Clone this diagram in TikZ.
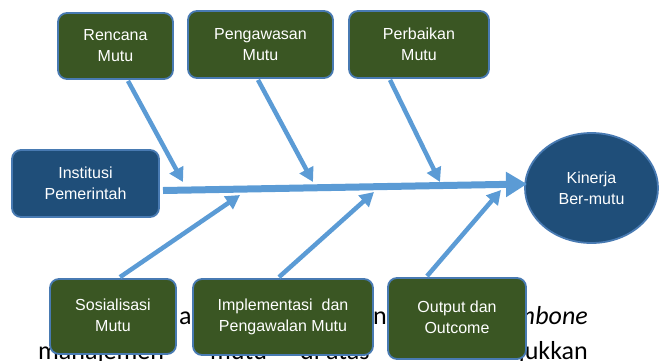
\documentclass[tikz,border=0pt]{standalone}
\usepackage{fontspec}
\setmainfont{Liberation Sans}
\newfontfamily\bodyfont{Carlito}
\usetikzlibrary{arrows.meta,shapes.geometric,calc}
\definecolor{gfill}{RGB}{58,86,35}
\definecolor{bfill}{RGB}{31,78,121}
\definecolor{bord}{RGB}{72,122,178}
\definecolor{arrc}{RGB}{91,155,213}
\begin{document}
\begin{tikzpicture}[x=1pt,y=-1pt,
  box/.style={draw=bord, line width=1.8pt, rounded corners=9pt, text=white, align=center,
    font=\fontsize{16}{21}\selectfont, inner sep=0pt},
  gbox/.style={box, fill=gfill},
  bbox/.style={box, fill=bfill},
  rib/.style={draw=arrc, line width=4.5pt, -{Triangle[length=14pt,width=15pt]}},
  spinearrow/.style={draw=arrc, line width=7pt, -{Triangle[length=21pt,width=24pt]}},
  bg/.style={font=\bodyfont\fontsize{26}{30}\selectfont, inner sep=0pt, anchor=base west}]
\useasboundingbox (0,0) rectangle (659,360);
% background body text fragments
\node[bg] (t1) at (179,324) {a};
\node[bg] (t2) at (373,324) {nl};
\node[bg, anchor=base east] (t3) at (588,324) {\itshape mbone};
\node[bg] (t4) at (38,359) {manajemen};
\node[bg] (t5) at (210,359) {mutu};
\node[bg] (t6) at (300,359) {di};
\node[bg] (t7) at (326,359) {atas};
\node[bg, anchor=base east] (t8) at (588,359) {menunjukkan};
% boxes
\node[gbox, minimum width=115pt, minimum height=66pt] (rencana) at (115.5,46) {Rencana\\Mutu};
\node[gbox, minimum width=145pt, minimum height=67pt] (peng) at (260.5,44.5) {Pengawasan\\Mutu};
\node[gbox, minimum width=140pt, minimum height=67pt] (perb) at (419,44.5) {Perbaikan\\Mutu};
\node[bbox, minimum width=147pt, minimum height=67pt] (inst) at (85.5,183.5) {Institusi\\Pemerintah};
\node[bbox, ellipse, minimum width=133pt, minimum height=110pt] (kin) at (591.5,188) {Kinerja\\Ber-mutu};
\node[gbox, minimum width=126pt, minimum height=75pt] (sos) at (113,316.5)
  {\raisebox{4pt}{\begin{tabular}{@{}c@{}}Sosialisasi\\Mutu\end{tabular}}};
\node[gbox, minimum width=180pt, minimum height=76pt] (impl) at (283,317)
  {\raisebox{4pt}{\begin{tabular}{@{}c@{}}Implementasi~~dan\\Pengawalan Mutu\end{tabular}}};
\node[gbox, minimum width=138pt, minimum height=81pt] (outp) at (457,318.5)
  {\raisebox{5pt}{\begin{tabular}{@{}c@{}}Output dan\\Outcome\end{tabular}}};
% spine
\coordinate (s0) at (163,190.5);
\coordinate (s1) at (527,184);
\draw[spinearrow] (s0) -- (s1);
% rib tips
\coordinate (r1) at (183,182);
\coordinate (r2) at (313,182);
\coordinate (r3) at (440,182);
\coordinate (r4) at (240,195);
\coordinate (r5) at (374,192);
\coordinate (r6) at (501,190);
\draw[rib] ([xshift=12.5pt,yshift=-1pt]rencana.south) -- (r1);
\draw[rib] ([xshift=-2.5pt,yshift=-1pt]peng.south) -- (r2);
\draw[rib] ([xshift=-29pt,yshift=-1pt]perb.south) -- (r3);
\draw[rib] ([xshift=7pt,yshift=1pt]sos.north) -- (r4);
\draw[rib] ([xshift=-4pt,yshift=1pt]impl.north) -- (r5);
\draw[rib] ([xshift=-30pt,yshift=1pt]outp.north) -- (r6);
\end{tikzpicture}
\end{document}
